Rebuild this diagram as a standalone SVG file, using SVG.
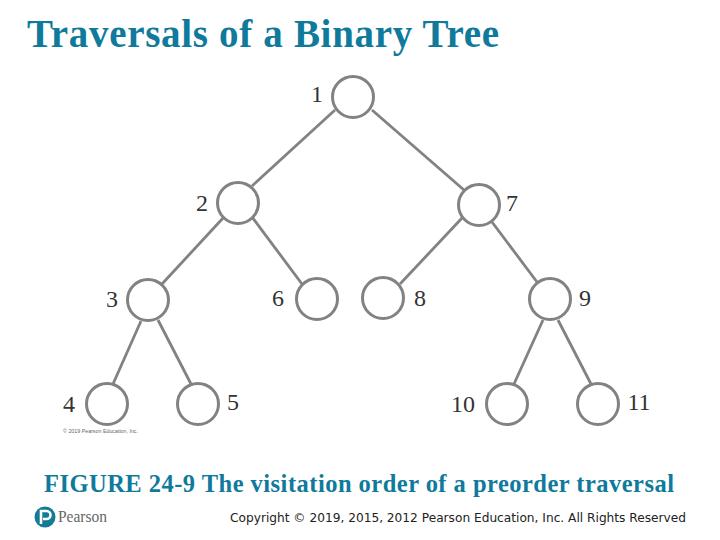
<svg xmlns="http://www.w3.org/2000/svg" width="720" height="540" viewBox="0 0 720 540">
<style>
.n{fill:#fff;stroke:#828282;stroke-width:3}
.e{stroke:#828282;stroke-width:2.800;fill:none}
.l{font-family:"Liberation Serif",serif;font-size:24px;fill:#333;text-anchor:middle}
.t{font-family:"Liberation Serif",serif;font-weight:bold;fill:#0f7a9b}
</style>
<rect width="720" height="540" fill="#fff"/>
<text class="t" x="27" y="47" font-size="39" textLength="472" lengthAdjust="spacing">Traversals of a Binary Tree</text>
<g id="connectors">
<path class="e" d="M335 110L252 186"/>
<path class="e" d="M372 110L464 190"/>
<path class="e" d="M224 217L162 284"/>
<path class="e" d="M252 217L302 284"/>
<path class="e" d="M463 217L400 284"/>
<path class="e" d="M492 222L537 282"/>
<path class="e" d="M141 321L113 384"/>
<path class="e" d="M158 320L191 384"/>
<path class="e" d="M543 320L514 384"/>
<path class="e" d="M558 320L591 384"/>
</g>
<g id="node1"><circle class="n" cx="353" cy="97" r="20.500"/><text class="l" x="317" y="102">1</text></g>
<g id="node2"><circle class="n" cx="238" cy="203" r="20.500"/><text class="l" x="202" y="211">2</text></g>
<g id="node7"><circle class="n" cx="479" cy="205" r="20.500"/><text class="l" x="512" y="211">7</text></g>
<g id="node3"><circle class="n" cx="148" cy="300" r="20.500"/><text class="l" x="112" y="307">3</text></g>
<g id="node6"><circle class="n" cx="317" cy="299" r="20.500"/><text class="l" x="278" y="306">6</text></g>
<g id="node8"><circle class="n" cx="383" cy="298" r="20.500"/><text class="l" x="420" y="306">8</text></g>
<g id="node9"><circle class="n" cx="550" cy="299" r="20.500"/><text class="l" x="585" y="306">9</text></g>
<g id="node4"><circle class="n" cx="107" cy="404" r="20.500"/><text class="l" x="69" y="412">4</text></g>
<g id="node5"><circle class="n" cx="198" cy="404" r="20.500"/><text class="l" x="233" y="410">5</text></g>
<g id="node10"><circle class="n" cx="507" cy="404" r="20.500"/><text class="l" x="463" y="412">10</text></g>
<g id="node11"><circle class="n" cx="598" cy="404" r="20.500"/><text class="l" x="639" y="410">11</text></g>
<text x="63" y="433" font-family="Liberation Sans,sans-serif" font-size="5.500" fill="#666" textLength="75" lengthAdjust="spacingAndGlyphs">© 2019 Pearson Education, Inc.</text>
<text class="t" x="44" y="492" font-size="24.500" textLength="630" lengthAdjust="spacing">FIGURE 24-9 The visitation order of a preorder traversal</text>
<circle cx="45" cy="517" r="10.500" fill="#147b96"/>
<path d="M41 524V511H46.500a3.800 3.800 0 0 1 0 8H43" fill="none" stroke="#fff" stroke-width="2.600"/>
<text x="58" y="522" font-family="Liberation Serif,serif" font-size="16" fill="#666" textLength="49" lengthAdjust="spacingAndGlyphs">Pearson</text>
<text x="230" y="522" font-family="DejaVu Sans,sans-serif" font-size="12" fill="#222" textLength="456" lengthAdjust="spacingAndGlyphs">Copyright © 2019, 2015, 2012 Pearson Education, Inc. All Rights Reserved</text>
</svg>
